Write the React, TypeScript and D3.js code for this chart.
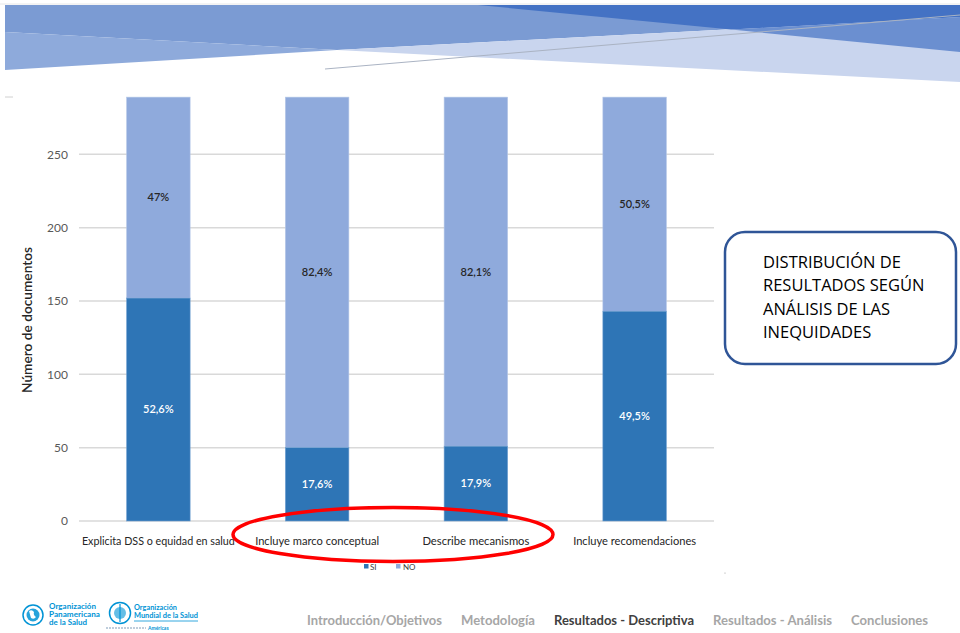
import React from "react";
import * as d3 from "d3";

const categories = [
  "Explicita DSS o equidad en salud",
  "Incluye marco conceptual",
  "Describe mecanismos",
  "Incluye recomendaciones",
];
const siValues = [152, 50, 51, 143];
const noValues = [137, 239, 238, 146];
const siLabels = ["52,6%", "17,6%", "17,9%", "49,5%"];
const noLabels = ["47%", "82,4%", "82,1%", "50,5%"];
const yTicks = [0, 50, 100, 150, 200, 250];
const seriesNames = ["SI", "NO"];
const navItems = [
  "Introducción/Objetivos",
  "Metodología",
  "Resultados - Descriptiva",
  "Resultados - Análisis",
  "Conclusiones",
];
const boxLines = ["DISTRIBUCIÓN DE", "RESULTADOS SEGÚN", "ANÁLISIS DE LAS", "INEQUIDADES"];

const SI_COLOR = "#2e75b6";
const NO_COLOR = "#8faadc";
const FONT = "Lato, 'Open Sans', sans-serif";

export default function App() {
  const W = 960;
  const H = 633;
  const x = d3.scaleBand<string>().domain(categories).range([79, 714]).paddingInner(0.6).paddingOuter(0.3);
  const y = d3.scaleLinear().domain([0, 300]).range([521, 81]);
  const bw = x.bandwidth();

  const stacked = categories.map((c, i) => ({
    c,
    si: siValues[i],
    no: noValues[i],
  }));

  const bannerMid = d3.line()([
    [5, 5], [960, 5], [960, 17], [337, 50], [5, 32],
  ]);

  const navX = [307, 461, 554, 713, 851];
  const navW = [135, 74, 140, 119, 77];
  const xLabelW = [153, 124, 107, 123];

  const opsLines = [
    { t: "Organización", w: 47 },
    { t: "Panamericana", w: 51 },
    { t: "de la Salud", w: 38 },
  ];
  const whoLines = [
    { t: "Organización", w: 43 },
    { t: "Mundial de la Salud", w: 64 },
  ];

  return (
    <svg width={W} height={H} style={{ position: "absolute", left: 0, top: 0, background: "#fff" }} fontFamily={FONT}>
      <rect x={0} y={0} width={W} height={H} fill="#ffffff" />
      {/* Banner */}
      <line x1={0} y1={4} x2={960} y2={4} stroke="#e8e8e8" strokeWidth={1} />
      <path d={bannerMid || ""} fill="#7b9bd3" />
      <polygon points="5,32 337,50 5,70" fill="#8eaadb" />
      <polygon points="337,50 960,17 960,82" fill="#c9d5ee" />
      <polygon points="478,5 960,5 960,17 731,29.6" fill="#4472c4" />
      <polygon points="731,29.6 960,17 960,52" fill="#6b8fd0" />
      <line x1={325} y1={69} x2={960} y2={15} stroke="#aab3c3" strokeWidth={1} />
      <line x1={5} y1={97} x2={13} y2={97} stroke="#d0d0d0" strokeWidth={1} />

      {/* Gridlines */}
      {yTicks.map((t) => (
        <line key={t} x1={79} x2={714} y1={y(t)} y2={y(t)} stroke="#d9d9d9" strokeWidth={1.5} />
      ))}
      {yTicks.map((t) => (
        <text key={"l" + t} x={68} y={y(t)} dy="0.35em" textAnchor="end" fontSize={12} fill="#595959">
          {t}
        </text>
      ))}
      <text
        transform={`translate(32,320) rotate(-90)`}
        textAnchor="middle"
        fontSize={12.5}
        fontWeight={600}
        fill="#262626"
        textLength={146}
        lengthAdjust="spacingAndGlyphs"
      >
        Número de documentos
      </text>

      {/* Bars */}
      {stacked.map((d, i) => {
        const x0 = x(d.c)!;
        const ySiTop = y(d.si);
        const yNoTop = y(d.si + d.no);
        return (
          <g key={d.c}>
            <rect x={x0} y={yNoTop} width={bw} height={ySiTop - yNoTop} fill={NO_COLOR} stroke="#b4c7e7" strokeWidth={0.6} />
            <rect x={x0} y={ySiTop} width={bw} height={y(0) - ySiTop} fill={SI_COLOR} stroke="#6f9fd0" strokeWidth={0.6} />
            <text x={x0 + bw / 2} y={(yNoTop + ySiTop) / 2} dy="0.35em" textAnchor="middle" fontSize={11} fontWeight={600} fill="#262626">
              {noLabels[i]}
            </text>
            <text x={x0 + bw / 2} y={(ySiTop + y(0)) / 2} dy="0.35em" textAnchor="middle" fontSize={11} fontWeight={600} fill="#ffffff">
              {siLabels[i]}
            </text>
            <text
              x={x0 + bw / 2}
              y={545}
              textAnchor="middle"
              fontSize={12}
              fill="#262626"
              textLength={xLabelW[i]}
              lengthAdjust="spacingAndGlyphs"
            >
              {d.c}
            </text>
          </g>
        );
      })}

      {/* Legend */}
      <rect x={364} y={564} width={4.5} height={4.5} fill={SI_COLOR} />
      <text x={370} y={569.5} fontSize={8} fill="#404040">{seriesNames[0]}</text>
      <rect x={396} y={564} width={4.5} height={4.5} fill={NO_COLOR} />
      <text x={403} y={569.5} fontSize={8} fill="#404040">{seriesNames[1]}</text>
      <circle cx={725} cy={573} r={0.6} fill="#999" />

      {/* Red ellipse */}
      <ellipse cx={393} cy={534.5} rx={160} ry={27} fill="none" stroke="#ff0000" strokeWidth={3.5} />

      {/* Info box */}
      <rect x={725} y={232} width={231} height={132} rx={20} ry={20} fill="#ffffff" stroke="#2f5597" strokeWidth={2.5} />
      {boxLines.map((l, i) => (
        <text key={l} x={763} y={267.5 + i * 23.6} fontSize={16.5} fill="#000000" fontFamily="'Open Sans', Lato, sans-serif">
          {l}
        </text>
      ))}

      {/* Footer logos */}
      <g>
        <circle cx={33} cy={615} r={10} fill="none" stroke="#0093d5" strokeWidth={1.5} />
        <circle cx={33} cy={615} r={6.5} fill="#0093d5" opacity={0.85} />
        <path d="M29,611 q3,-2 5,1 q-1,3 2,5 q-2,3 -5,1 z" fill="#ffffff" />
        {opsLines.map((l, i) => (
          <text key={l.t} x={49} y={609 + i * 8} fontSize={6.5} fontWeight={700} fill="#0093d5" textLength={l.w} lengthAdjust="spacingAndGlyphs">
            {l.t}
          </text>
        ))}
        <circle cx={120} cy={613} r={10.5} fill="none" stroke="#0093d5" strokeWidth={1.5} />
        <circle cx={120} cy={613} r={6} fill="#0093d5" opacity={0.6} />
        <line x1={120} y1={604} x2={120} y2={622} stroke="#0093d5" strokeWidth={1.2} />
        {whoLines.map((l, i) => (
          <text key={l.t} x={134} y={609.5 + i * 8} fontSize={6.5} fontWeight={700} fill="#0093d5" textLength={l.w} lengthAdjust="spacingAndGlyphs">
            {l.t}
          </text>
        ))}
        <line x1={134} y1={621} x2={198} y2={621} stroke="#0093d5" strokeWidth={0.8} />
        <line x1={106} y1={628} x2={146} y2={628} stroke="#7f9bb8" strokeWidth={1} strokeDasharray="2,1" />
        <text x={148} y={630} fontSize={5} fontWeight={700} fill="#0093d5">Américas</text>
      </g>

      {/* Nav */}
      {navItems.map((n, i) => (
        <text
          key={n}
          x={navX[i]}
          y={625}
          fontSize={12.5}
          fontWeight={700}
          fill={i === 2 ? "#404040" : "#a6a6a6"}
          textLength={navW[i]}
          lengthAdjust="spacingAndGlyphs"
        >
          {n}
        </text>
      ))}
    </svg>
  );
}
